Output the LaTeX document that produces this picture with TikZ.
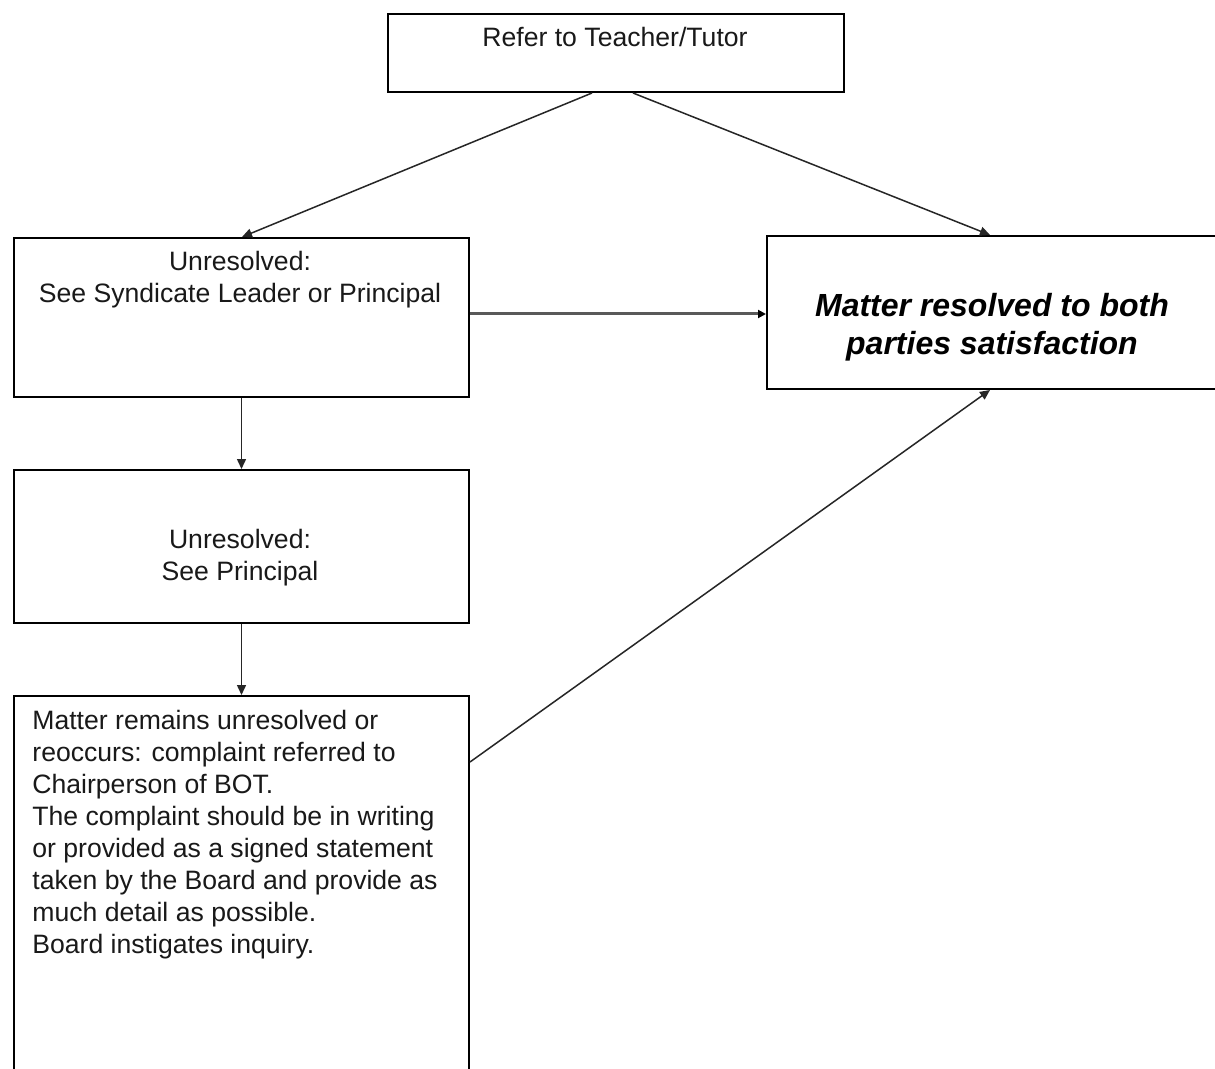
\documentclass[tikz,border=0pt]{standalone}
\usepackage{fontspec}
\setmainfont{Liberation Sans}
\usetikzlibrary{arrows.meta}
\begin{document}
\begin{tikzpicture}[x=0.5pt,y=-0.5pt,
  box/.style={draw=black, line width=1pt, rectangle, inner sep=0pt, anchor=north west, fill=none},
  txt/.style={inner sep=0pt, text=black!90, font=\fontsize{13.3pt}{16pt}\selectfont},
  bigtxt/.style={inner sep=0pt, text=black, font=\fontsize{16pt}{19pt}\selectfont\bfseries\itshape},
  conn/.style={draw=black!85, line width=0.75pt, -{Triangle[length=5pt,width=4.5pt]}},
  grayconn/.style={draw=black!65, line width=1.5pt, -{Triangle[length=4pt,width=4pt,color=black]}}
]
\useasboundingbox (0,0) rectangle (1215,1069);
\clip (0,0) rectangle (1215,1069);
\fill[white] (0,0) rectangle (1215,1069);

% boxes
\node[box, minimum width=228pt, minimum height=39pt] (top) at (387,13) {};
\node[box, minimum width=227.5pt, minimum height=79.5pt] (b2) at (13,237) {};
\node[box, minimum width=227.5pt, minimum height=76.5pt] (b3) at (13,469) {};
\node[box, minimum width=227.5pt, minimum height=210pt] (b4) at (13,695) {};
\node[box, minimum width=250pt, minimum height=76.5pt] (res) at (766,235) {};

% texts
\node[txt, anchor=base] (ttop) at (615,47) {Refer to Teacher/Tutor};
\node[txt, anchor=base] (tb2) at (240,271) {\parbox[t]{220pt}{\centering Unresolved:\\See Syndicate Leader or Principal}};
\node[txt, anchor=base] (tb3) at (240,548) {\parbox[t]{220pt}{\centering Unresolved:\\See Principal}};
\node[txt, anchor=base west] (tb4) at (32,729) {\parbox[t]{220pt}{\raggedright
Matter remains unresolved or\\
reoccurs: complaint referred to\\
Chairperson of BOT.\\
The complaint should be in writing\\
or provided as a signed statement\\
taken by the Board and provide as\\
much detail as possible.\\
Board instigates inquiry.}};
\node[bigtxt, anchor=base] (tres) at (992,317) {\parbox[t]{230pt}{\centering Matter resolved to both\\parties satisfaction}};

% connectors
\draw[conn] ([xshift=102.5pt]top.south west) -- ([xshift=114.5pt]b2.north west);
\draw[conn] ([xshift=123pt]top.south west) -- ([xshift=112pt]res.north west);
\draw[conn] (b2.south) -- (b3.north);
\draw[conn] (b3.south) -- (b4.north);
\draw[grayconn] ([yshift=1.75pt]b2.east) -- ([yshift=1.75pt]b2.east -| res.west);
\draw[conn] ([yshift=-33.5pt]b4.north east) -- ([xshift=112pt]res.south west);
\end{tikzpicture}
\end{document}
